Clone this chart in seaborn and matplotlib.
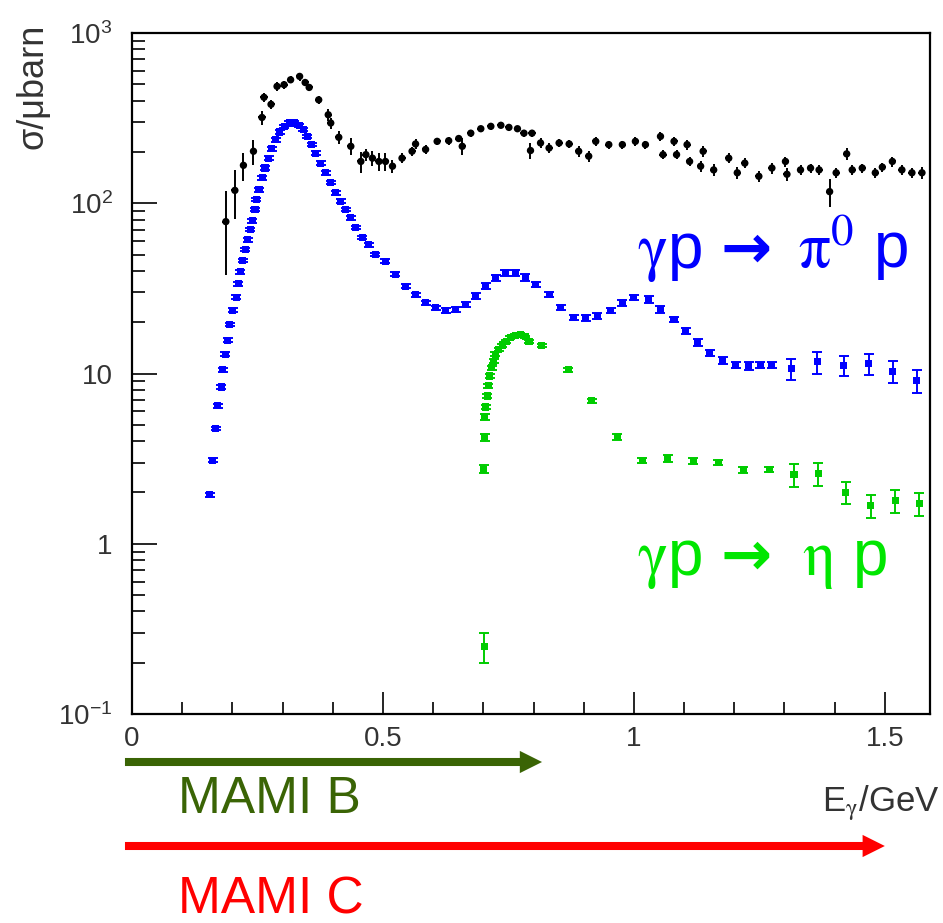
# ================================================================
# Total photoabsorption and meson photoproduction cross sections
# ================================================================

import numpy as np
import pandas as pd
import seaborn as sns
import matplotlib.pyplot as plt

# ----------------------------------------------------------------
# Data
# ----------------------------------------------------------------
total_e = [0.187, 0.205, 0.222, 0.242, 0.259, 0.263, 0.277, 0.289, 0.303, 0.316,
           0.334, 0.345, 0.353, 0.372, 0.391, 0.396, 0.412, 0.436, 0.456, 0.466,
           0.479, 0.492, 0.505, 0.519, 0.538, 0.558, 0.565, 0.585, 0.608, 0.631,
           0.651, 0.658, 0.675, 0.695, 0.715, 0.735, 0.751, 0.768, 0.781, 0.794,
           0.797, 0.814, 0.831, 0.851, 0.871, 0.890, 0.910, 0.924, 0.950, 0.977,
           1.003, 1.023, 1.053, 1.058, 1.080, 1.085, 1.106, 1.111, 1.133, 1.138,
           1.159, 1.189, 1.206, 1.221, 1.249, 1.275, 1.302, 1.305, 1.332, 1.352,
           1.369, 1.390, 1.403, 1.424, 1.435, 1.455, 1.481, 1.495, 1.515, 1.534,
           1.554, 1.574]
total_xs = [78, 119, 167, 202, 319, 419, 381, 486, 497, 531,
            556, 512, 479, 405, 331, 296, 244, 216, 176, 193,
            184, 176, 176, 165, 184, 202, 223, 207, 231, 233,
            240, 216, 258, 274, 283, 287, 279, 274, 258, 204,
            258, 226, 211, 226, 223, 202, 189, 231, 221, 221,
            231, 221, 247, 193, 231, 193, 221, 176, 165, 202,
            157, 184, 151, 172, 144, 161, 176, 148, 157, 161,
            157, 117, 151, 195, 157, 161, 151, 163, 176, 157,
            151, 151]
total_err = [40, 38, 31, 34, 30, 25, 25, 30, 25, 25,
             30, 25, 25, 22, 25, 22, 20, 25, 25, 15,
             18, 22, 22, 15, 12, 12, 15, 12, 12, 12,
             12, 25, 12, 12, 12, 12, 12, 12, 12, 22,
             12, 15, 15, 12, 12, 15, 15, 15, 12, 12,
             15, 12, 15, 12, 15, 12, 15, 10, 12, 15,
             12, 12, 12, 12, 10, 12, 12, 12, 10, 10,
             10, 22, 10, 15, 10, 10, 10, 10, 12, 10,
             10, 12]

pi0_e = [0.155, 0.161, 0.167, 0.171, 0.178, 0.181, 0.186, 0.191, 0.195, 0.201,
         0.208, 0.212, 0.216, 0.221, 0.226, 0.231, 0.236, 0.240, 0.245, 0.248,
         0.253, 0.260, 0.265, 0.272, 0.278, 0.286, 0.294, 0.303, 0.313, 0.323,
         0.333, 0.341, 0.349, 0.358, 0.366, 0.376, 0.386, 0.396, 0.406, 0.416,
         0.426, 0.436, 0.446, 0.459, 0.472, 0.485, 0.505, 0.525, 0.545, 0.565,
         0.585, 0.605, 0.625, 0.645, 0.665, 0.685, 0.705, 0.725, 0.744, 0.764,
         0.784, 0.804, 0.831, 0.854, 0.880, 0.904, 0.927, 0.954, 0.977, 1.000,
         1.030, 1.053, 1.080, 1.103, 1.127, 1.151, 1.177, 1.203, 1.229, 1.252,
         1.275, 1.314, 1.365, 1.418, 1.468, 1.516, 1.564]
pi0_xs = [1.94, 3.1, 4.75, 6.45, 8.33, 10.5, 13.0, 15.7, 19.4, 23.5,
          28.1, 33.6, 39.6, 46, 53.5, 61, 70, 79, 92, 105,
          120, 141, 161, 184, 209, 236, 262, 283, 296, 296,
          287, 271, 247, 221, 197, 172, 151, 132, 115, 103,
          92, 82, 72, 63, 57, 50, 45.7, 38.2, 32.6, 29.1,
          26.0, 24.3, 23.5, 23.8, 25.4, 28.5, 32.6, 36.5, 39, 39,
          36.8, 33.4, 29.1, 24.5, 21.4, 21.3, 21.7, 23.5, 26.0, 27.9,
          27.3, 23.8, 20.8, 17.8, 15.2, 13.2, 11.9, 11.2, 11.1, 11.2,
          11.2, 10.7, 11.7, 11.2, 11.4, 10.3, 9.1]
pi0_err = [0.05, 0.08, 0.1, 0.15, 0.2, 0.25, 0.3, 0.4, 0.5, 0.6,
           0.7, 0.8, 1.0, 1.1, 1.3, 1.5, 1.7, 2.0, 2.3, 2.6,
           3, 3.5, 4, 4.5, 5, 6, 6, 7, 7, 7,
           7, 7, 6, 5, 5, 4, 4, 3, 3, 2.5,
           2.3, 2, 1.8, 1.5, 1.4, 1.2, 1.1, 1.0, 0.9, 0.8,
           0.8, 0.7, 0.7, 0.7, 0.8, 1.2, 1.3, 1.6, 1.8, 1.8,
           1.7, 1.2, 1.0, 0.9, 0.8, 0.9, 0.9, 0.9, 1.0, 1.0,
           1.2, 1.0, 0.8, 0.8, 0.7, 0.6, 0.6, 0.5, 0.6, 0.5,
           0.5, 1.5, 1.7, 1.5, 1.6, 1.5, 1.4]

eta_e = [0.702, 0.701, 0.703, 0.703, 0.705, 0.708, 0.710, 0.713, 0.717, 0.721,
         0.724, 0.731, 0.738, 0.746, 0.754, 0.764, 0.774, 0.784, 0.791, 0.816,
         0.869, 0.916, 0.967, 1.017, 1.067, 1.118, 1.168, 1.218, 1.270, 1.319,
         1.367, 1.422, 1.472, 1.521, 1.569]
eta_xs = [0.25, 2.74, 4.24, 5.56, 6.36, 7.38, 8.45, 9.67, 10.8, 11.8,
          13.0, 13.9, 14.7, 15.5, 16.2, 16.8, 17.0, 16.4, 15.5, 14.6,
          10.5, 6.9, 4.24, 3.07, 3.16, 3.05, 3.0, 2.72, 2.73, 2.55,
          2.58, 2.01, 1.68, 1.79, 1.72]
eta_err = [0.05, 0.15, 0.2, 0.2, 0.2, 0.2, 0.2, 0.2, 0.3, 0.3,
           0.3, 0.3, 0.3, 0.3, 0.3, 0.3, 0.3, 0.3, 0.3, 0.3,
           0.3, 0.2, 0.15, 0.1, 0.15, 0.12, 0.1, 0.1, 0.1, 0.4,
           0.4, 0.3, 0.26, 0.27, 0.27]

# beam energy ranges of the two accelerator stages (GeV)
mami_b_max = 0.817
mami_c_max = 1.50

y_ticks = [0.1, 1, 10, 100, 1000]
y_ticklabels = [r'$\mathregular{10^{-1}}$', '1', '10',
                r'$\mathregular{10^{2}}$', r'$\mathregular{10^{3}}$']
x_ticks = [0, 0.5, 1, 1.5]
x_ticklabels = ['0', '0.5', '1', '1.5']

df_total = pd.DataFrame({'E': total_e, 'xs': total_xs, 'err': total_err})
df_pi0 = pd.DataFrame({'E': pi0_e, 'xs': pi0_xs, 'err': pi0_err})
df_eta = pd.DataFrame({'E': eta_e, 'xs': eta_xs, 'err': eta_err})

# ----------------------------------------------------------------
# Style
# ----------------------------------------------------------------
sns.set_style('ticks')
plt.rcParams['font.family'] = ['Liberation Sans', 'DejaVu Sans']
plt.rcParams['mathtext.fontset'] = 'stix'

BLUE = '#0000ff'
GREEN = '#00cc00'
GREEN_TXT = '#00e600'
DKGREEN = '#3a6405'
RED = '#ff0000'

fig = plt.figure(figsize=(9.43, 9.23), dpi=100)
ax = fig.add_axes([132 / 943, 1 - 714 / 923, 798 / 943, 681 / 923])

# ----------------------------------------------------------------
# Data points
# ----------------------------------------------------------------
ax.errorbar(df_total['E'], df_total['xs'], yerr=df_total['err'], xerr=0.007,
            fmt='none', ecolor='black', elinewidth=1.4, capsize=0, zorder=2)
sns.scatterplot(data=df_total, x='E', y='xs', ax=ax, color='black', marker='o',
                s=28, edgecolor='none', zorder=3)

ax.errorbar(df_pi0['E'], df_pi0['xs'], yerr=df_pi0['err'], fmt='none',
            ecolor=BLUE, elinewidth=1.4, capsize=3.5, capthick=1.4, zorder=2)
sns.scatterplot(data=df_pi0, x='E', y='xs', ax=ax, color=BLUE, marker='s',
                s=26, edgecolor='none', zorder=3)

ax.errorbar(df_eta['E'], df_eta['xs'], yerr=df_eta['err'], fmt='none',
            ecolor=GREEN, elinewidth=1.4, capsize=3.5, capthick=1.4, zorder=2)
sns.scatterplot(data=df_eta, x='E', y='xs', ax=ax, color=GREEN, marker='s',
                s=26, edgecolor='none', zorder=3)

# ----------------------------------------------------------------
# Axes
# ----------------------------------------------------------------
ax.set_yscale('log')
ax.set_xlim(0, 1.59)
ax.set_ylim(0.1, 1000)
ax.set_xticks(x_ticks)
ax.set_xticklabels(x_ticklabels)
ax.set_xticks(np.arange(0.1, 1.59, 0.1), minor=True)
ax.set_yticks(y_ticks)
ax.set_yticklabels(y_ticklabels)
ax.set_xlabel('')
ax.set_ylabel('')
for s in ax.spines.values():
    s.set_linewidth(1.6)
    s.set_color('black')
ax.tick_params(which='both', direction='in', top=False, right=False,
               width=1.2, labelsize=20, colors='black')
ax.tick_params(axis='y', which='major', length=18, pad=14)
ax.tick_params(axis='y', which='minor', length=9.5)
ax.tick_params(axis='x', which='major', length=16, pad=9)
ax.tick_params(axis='x', which='minor', length=8.5)
ax.tick_params(axis='both', labelcolor='#333333')

fig.text(33 / 943, 1 - 24 / 923, 'σ/μbarn', rotation=90, ha='center', va='top',
         fontsize=26, color='#333333')
fig.text(940 / 943, 1 - 811 / 923, r'E$_{\mathrm{\gamma}}$/GeV', ha='right',
         va='baseline', fontsize=25, color='#333333')

# ----------------------------------------------------------------
# Reaction labels (Greek letters in a serif face, like the original)
# ----------------------------------------------------------------
def reaction_label(y_px, left, right, right_x, color):
    yf = 1 - y_px / 923
    fig.text(637 / 943, yf, left, ha='left', va='baseline',
             fontsize=46, color=color)
    fig.text(720 / 943, yf, '→', ha='left', va='baseline', fontsize=44,
             color=color, fontfamily='DejaVu Sans', fontweight='bold')
    fig.text(right_x / 943, yf, right, ha='left', va='baseline',
             fontsize=46, color=color)

reaction_label(268, r'$\mathrm{\gamma}$p', r'$\mathrm{\pi}^0$ p', 798, BLUE)
reaction_label(575, r'$\mathrm{\gamma}$p', r'$\mathrm{\eta}$ p', 802, GREEN_TXT)

# ----------------------------------------------------------------
# Energy range arrows (MAMI B / MAMI C)
# ----------------------------------------------------------------
trans = ax.get_xaxis_transform()
arrow_style = 'simple,head_length=1.6,head_width=1.6,tail_width=0.58'
ax.annotate('', xy=(mami_b_max, -48 / 681), xytext=(-0.014, -48 / 681),
            xycoords=trans, textcoords=trans, annotation_clip=False,
            arrowprops=dict(arrowstyle=arrow_style, mutation_scale=10,
                            color=DKGREEN, lw=0, shrinkA=0, shrinkB=0))
ax.annotate('', xy=(mami_c_max, -132 / 681), xytext=(-0.014, -132 / 681),
            xycoords=trans, textcoords=trans, annotation_clip=False,
            arrowprops=dict(arrowstyle=arrow_style, mutation_scale=10,
                            color=RED, lw=0, shrinkA=0, shrinkB=0))
fig.text(178 / 943, 1 - 813 / 923, 'MAMI B', ha='left', va='baseline',
         fontsize=37, color=DKGREEN)
fig.text(178 / 943, 1 - 913 / 923, 'MAMI C', ha='left', va='baseline',
         fontsize=37, color=RED)

fig.savefig('out.png', dpi=100)
